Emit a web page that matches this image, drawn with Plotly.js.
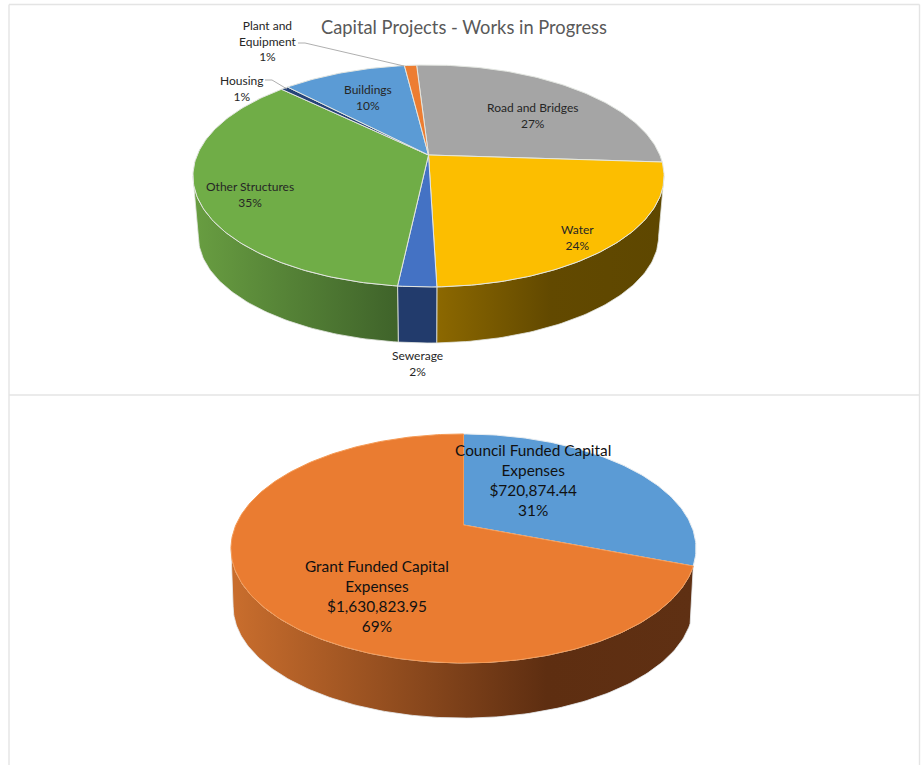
<!DOCTYPE html>
<html>
<head>
<meta charset="utf-8">
<script src="https://cdn.plot.ly/plotly-3.0.1.min.js"></script>
<style>html,body{margin:0;padding:0;background:#fff;overflow:hidden}</style>
</head>
<body>
<div id="chart" style="width:923px;height:765px"></div>
<script>
// ---- data ----
var worksCategories = ['Road and Bridges','Water','Sewerage','Other Structures','Housing','Buildings','Plant and Equipment'];
var worksShares = [27.0,23.5,2.2,35.49,0.6,10.2,1.0];
var fundingCategories = ['Council Funded Capital Expenses','Grant Funded Capital Expenses'];
var fundingAmounts = [720874.44,1630823.95];
var chartTitle = 'Capital Projects - Works in Progress';

// ---- styles ----
var worksColors = ['#a5a5a5','#fcbe00','#4472c4','#70ad47','#264478','#5b9bd5','#ed7d31'];
var worksWalls = [
  null,
  {start:437,stop:664,scale:[[0,'#8c6800'],[0.5,'#624900'],[1,'#5e4700']]},
  {start:397,stop:437,scale:[[0,'#223b6c'],[1,'#223b6c']]},
  {start:196,stop:397,scale:[[0,'#689d41'],[1,'#3f632a']]},
  null,null,null
];
var fundingColors = ['#5b9bd5','#ea7c31'];
var fundingWalls = [
  null,
  {start:235,stop:693,scale:[[0,'#c86d2d'],[0.68,'#5e2e11'],[1,'#5f3013']]}
];
var worksGeom = {cx:428.5,cy:155,rx:231.3,ry:107,p:0.189,start:-3.5,
                 bcx:428.5,bcy:216,brx:226,bry:103,edge:'#e3e6e1'};
var fundingGeom = {cx:463.5,cy:525,rx:227.6,ry:109.7,p:0.205,start:0,
                 bcx:463,bcy:583.5,brx:225,bry:107,edge:'#e8edf1'};

// ---- geometry: a slice's rim follows from its share of the total ----
function rim(g,deg,bottom){
  var a=deg*Math.PI/180, u=Math.sin(a), v=Math.cos(a), w=1+g.p*v;
  return bottom ? [g.bcx+g.brx*u/w, g.bcy-g.bry*v/w] : [g.cx+g.rx*u/w, g.cy-g.ry*v/w];
}
function arc(g,from,to,bottom){
  var out=[], n=Math.max(2,Math.ceil(Math.abs(to-from)));
  for(var i=0;i<=n;i++) out.push(rim(g,from+(to-from)*i/n,bottom));
  return out;
}
function pieTraces(g,names,values,colors,walls,rimLines){
  var total=values.reduce(function(s,d){return s+d},0), tops=[], sides=[], acc=g.start;
  var acos=Math.acos(-g.p)*180/Math.PI, visFrom=acos, visTo=360-acos;
  values.forEach(function(val,i){
    var a0=acc, a1=acc+val/total*360; acc=a1;
    var pct=Math.round(val/total*100)+'%';
    var top=[[g.cx,g.cy]].concat(arc(g,a0,a1,false)); top.push([g.cx,g.cy]);
    tops.push({type:'scatter',mode:'lines',name:names[i],fill:'toself',fillcolor:colors[i],
      x:top.map(function(p){return p[0]}),y:top.map(function(p){return p[1]}),
      line:{color:(rimLines&&rimLines[i])||g.edge,width:1},hoveron:'fills',text:names[i]+' '+pct,hoverinfo:'text',showlegend:false});
    var f=Math.max(a0,visFrom), t=Math.min(a1,visTo);
    if(walls[i]&&t>f){
      var wall=arc(g,f,t,false).concat(arc(g,t,f,true)); wall.push(wall[0]);
      sides.push({type:'scatter',mode:'lines',name:names[i]+' side',fill:'toself',
        fillgradient:{type:'horizontal',start:walls[i].start,stop:walls[i].stop,colorscale:walls[i].scale},
        x:wall.map(function(p){return p[0]}),y:wall.map(function(p){return p[1]}),
        line:{color:g.edge,width:0.8},hoverinfo:'skip',showlegend:false});
    }
  });
  return sides.concat(tops);
}
function pctOf(values,i){
  var total=values.reduce(function(s,d){return s+d},0);
  return Math.round(values[i]/total*100)+'%';
}
function money(v){return '$'+v.toLocaleString('en-US',{minimumFractionDigits:2,maximumFractionDigits:2});}

var traces = pieTraces(worksGeom,worksCategories,worksShares,worksColors,worksWalls)
  .concat(pieTraces(fundingGeom,fundingCategories,fundingAmounts,fundingColors,fundingWalls,['#e8edf1','#f59a55']));

// ---- leader lines (chart furniture) ----
var leaders = [
  {x:[298,305,404],y:[43,43,66]},
  {x:[265,272,287],y:[80,80,89]}
];
leaders.forEach(function(l){
  traces.push({type:'scatter',mode:'lines',x:l.x,y:l.y,line:{color:'#a6a6a6',width:0.9},hoverinfo:'skip',showlegend:false});
});

// ---- labels ----
var worksBreaks = ['Road and Bridges','Water','Sewerage','Other Structures','Housing','Buildings','Plant and<br>Equipment'];
var worksLabelPos = [[532,115],[577,237],[417,363],[250,194],[241,88],[368,97],[268,41]];
var annotations = worksBreaks.map(function(t,i){
  return {x:worksLabelPos[i][0],y:worksLabelPos[i][1],xref:'x',yref:'y',showarrow:false,align:'center',
    text:t+'<br>'+pctOf(worksShares,i),font:{family:'Lato, Carlito, sans-serif',size:12,color:'#262626'}};
});
var fundingBreaks = ['Council Funded Capital<br>Expenses','Grant Funded Capital<br>Expenses'];
var fundingLabelPos = [[533,480],[377,596]];
fundingBreaks.forEach(function(t,i){
  annotations.push({x:fundingLabelPos[i][0],y:fundingLabelPos[i][1],xref:'x',yref:'y',showarrow:false,align:'center',
    text:t+'<br>'+money(fundingAmounts[i])+'<br>'+pctOf(fundingAmounts,i),
    font:{family:'Lato, Carlito, sans-serif',size:15.4,color:'#111111'}});
});

// ---- frame ----
var frameColor='#e4e4e4';
var frame=[[9,4.5,919.5,4.5],[9,4.5,9,765],[919.5,4.5,919.5,765],[9,395,919.5,395]].map(function(s){
  return {type:'line',xref:'x',yref:'y',x0:s[0],y0:s[1],x1:s[2],y1:s[3],line:{color:frameColor,width:1.4},layer:'below'};
});

Plotly.newPlot('chart',traces,{
  width:923,height:765,margin:{l:0,r:0,t:0,b:0},
  paper_bgcolor:'#ffffff',plot_bgcolor:'#ffffff',showlegend:false,
  title:{text:chartTitle,x:464/923,xref:'paper',xanchor:'center',y:1-28/765,yref:'paper',yanchor:'middle',
    font:{family:'Lato, Carlito, sans-serif',size:18.3,color:'#595959'}},
  xaxis:{range:[0,923],visible:false,fixedrange:true},
  yaxis:{range:[765,0],visible:false,fixedrange:true},
  shapes:frame,annotations:annotations,hovermode:'closest'
},{displayModeBar:false,staticPlot:false});
</script>
</body>
</html>
